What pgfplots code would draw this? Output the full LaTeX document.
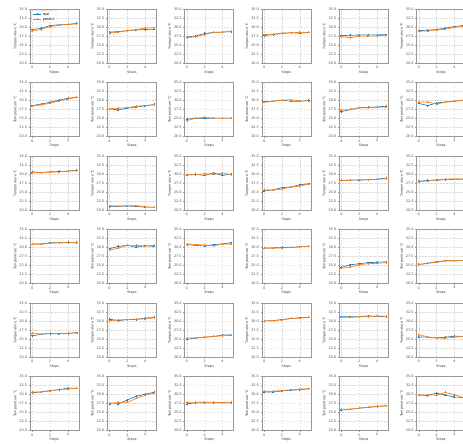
\documentclass[border=0pt]{standalone}
\usepackage{pgfplots}
\pgfplotsset{compat=1.18}
\usepgfplotslibrary{groupplots}
\usetikzlibrary{calc}
\usepackage{fontspec}
\setmainfont{DejaVu Sans}
\definecolor{cReal}{HTML}{1F77B4}
\definecolor{cPred}{HTML}{FF7F0E}
\pgfplotsset{
  realst/.style={cReal, line width=1.3pt, mark=+, mark size=2pt, mark options={solid}},
  predst/.style={cPred, line width=1.3pt, mark=+, mark size=2pt, mark options={solid}},
}
\newcommand{\panel}[2]{\nextgroupplot
  \addplot[realst] coordinates {#1};
  \addplot[predst] coordinates {#2};}
\begin{document}
\begin{tikzpicture}
\begin{groupplot}[
  group style={group name=group, group size=6 by 6, horizontal sep=56.6pt, vertical sep=39pt},
  scale only axis, width=98pt, height=108pt,
  xmin=-0.25, xmax=5.25, ymin=20, ymax=35,
  xtick={0,2,4}, ytick={20,22.5,25,27.5,30,32.5,35},
  yticklabel style={/pgf/number format/.cd, fixed, fixed zerofill, precision=1},
  /pgf/number format/assume math mode=true,
  ticklabel style={font=\fontsize{6.8}{8}\selectfont, color=black!70},
  label style={font=\fontsize{6.8}{8}\selectfont, color=black!75},
  xlabel={Steps}, ylabel={Temperature °C},
  xlabel style={yshift=3pt}, ylabel style={yshift=-2pt},
  axis line style={black!40, line width=0.8pt},
  tick style={black!40, line width=0.6pt},
  tick align=outside, major tick length=2.5pt,
  xtick pos=bottom, ytick pos=left,
  grid=major, major grid style={dashed, black!15, line width=0.5pt},
  legend style={at={(0.03,0.97)}, anchor=north west, font=\fontsize{6.8}{8}\selectfont,
    draw=black!25, rounded corners=2pt, fill=white, fill opacity=0.9, text opacity=1,
    row sep=-1pt, inner sep=2pt},
  legend cell align=left,
]
% row 1
\panel{(0,29.3)(1,29.6)(2,30.4)(3,30.6)(4,30.7)(5,31.0)}{(0,28.9)(1,29.3)(2,30.1)(3,30.5)(4,30.7)(5,30.9)}
\legend{real,predict}
\panel{(0,28.6)(1,28.7)(2,29.0)(3,29.2)(4,29.3)(5,29.4)}{(0,28.3)(1,28.6)(2,29.0)(3,29.3)(4,29.7)(5,29.8)}
\panel{(0,27.2)(1,27.5)(2,28.2)(3,28.5)(4,28.6)(5,28.7)}{(0,27.0)(1,27.3)(2,27.9)(3,28.5)(4,28.6)(5,28.8)}
\panel{(0,27.6)(1,27.9)(2,28.2)(3,28.4)(4,28.3)(5,28.5)}{(0,27.9)(1,28.0)(2,28.3)(3,28.4)(4,28.5)(5,28.5)}
\panel{(0,27.6)(1,27.7)(2,27.8)(3,27.8)(4,27.8)(5,27.9)}{(0,27.3)(1,27.0)(2,27.5)(3,27.5)(4,27.6)(5,27.7)}
\panel{(0,29.0)(1,29.1)(2,29.3)(3,29.7)(4,30.1)(5,30.4)}{(0,28.8)(1,28.9)(2,29.2)(3,29.4)(4,29.9)(5,30.2)}
% row 2
\panel{(0,28.6)(1,29.0)(2,29.5)(3,30.1)(4,30.6)(5,30.9)}{(0,28.4)(1,28.8)(2,29.2)(3,29.9)(4,30.4)(5,30.9)}
\panel{(0,27.7)(1,27.4)(2,27.9)(3,28.2)(4,28.5)(5,28.9)}{(0,27.7)(1,27.9)(2,28.0)(3,28.4)(4,28.6)(5,28.8)}
\panel{(0,24.8)(1,25.1)(2,25.0)(3,25.1)(4,25.1)(5,25.1)}{(0,24.4)(1,25.1)(2,25.3)(3,25.1)(4,25.1)(5,25.1)}
\panel{(0,29.7)(1,29.8)(2,30.1)(3,29.8)(4,29.8)(5,30.0)}{(0,29.5)(1,29.8)(2,30.1)(3,30.2)(4,29.9)(5,29.9)}
\panel{(0,26.9)(1,27.5)(2,28.0)(3,28.1)(4,28.2)(5,28.4)}{(0,27.3)(1,27.5)(2,28.0)(3,28.0)(4,28.1)(5,28.2)}
\panel{(0,29.2)(1,28.6)(2,29.3)(3,29.6)(4,29.8)(5,30.1)}{(0,29.6)(1,29.6)(2,29.0)(3,29.5)(4,29.8)(5,30.1)}
% row 3
\panel{(0,30.6)(1,30.4)(2,30.6)(3,30.7)(4,30.8)(5,31.1)}{(0,30.3)(1,30.4)(2,30.5)(3,30.6)(4,30.8)(5,30.9)}
\panel{(0,20.9)(1,21.0)(2,21.1)(3,21.0)(4,20.8)(5,20.8)}{(0,21.2)(1,21.1)(2,21.2)(3,21.2)(4,20.9)(5,20.7)}
\panel{(0,29.7)(1,29.9)(2,29.6)(3,30.3)(4,29.6)(5,30.0)}{(0,29.8)(1,29.8)(2,30.1)(3,29.9)(4,30.3)(5,29.8)}
\panel{(0,25.3)(1,25.6)(2,26.2)(3,26.4)(4,27.0)(5,27.3)}{(0,25.6)(1,25.5)(2,25.8)(3,26.4)(4,26.6)(5,27.2)}
\panel{(0,28.2)(1,28.3)(2,28.3)(3,28.4)(4,28.6)(5,28.8)}{(0,28.2)(1,28.3)(2,28.4)(3,28.4)(4,28.5)(5,28.7)}
\panel{(0,28.0)(1,28.2)(2,28.3)(3,28.4)(4,28.5)(5,28.6)}{(0,27.8)(1,28.1)(2,28.4)(3,28.6)(4,28.6)(5,28.6)}
% row 4
\panel{(0,31.0)(1,31.0)(2,31.3)(3,31.3)(4,31.4)(5,31.3)}{(0,30.9)(1,30.9)(2,31.2)(3,31.3)(4,31.3)(5,31.4)}
\panel{(0,29.7)(1,30.3)(2,30.6)(3,30.1)(4,30.5)(5,30.3)}{(0,29.3)(1,29.8)(2,30.6)(3,30.6)(4,30.4)(5,30.6)}
\panel{(0,30.8)(1,30.6)(2,30.4)(3,30.8)(4,31.0)(5,31.3)}{(0,31.0)(1,30.8)(2,30.7)(3,30.5)(4,30.9)(5,31.0)}
\panel{(0,29.9)(1,29.9)(2,30.0)(3,30.0)(4,30.2)(5,30.3)}{(0,29.8)(1,29.8)(2,29.9)(3,30.0)(4,30.2)(5,30.3)}
\panel{(0,24.5)(1,25.2)(2,25.5)(3,25.8)(4,25.9)(5,26.0)}{(0,24.2)(1,24.6)(2,25.2)(3,25.5)(4,25.6)(5,25.8)}
\panel{(0,25.3)(1,25.6)(2,26.1)(3,26.3)(4,26.3)(5,26.4)}{(0,25.2)(1,25.6)(2,25.9)(3,26.3)(4,26.3)(5,26.4)}
% row 5
\panel{(0,25.9)(1,26.3)(2,26.5)(3,26.4)(4,26.5)(5,26.8)}{(0,26.6)(1,26.4)(2,26.6)(3,26.5)(4,26.6)(5,26.7)}
\panel{(0,30.5)(1,30.1)(2,30.4)(3,30.4)(4,30.8)(5,31.0)}{(0,30.1)(1,30.3)(2,30.4)(3,30.5)(4,30.6)(5,30.9)}
\panel{(0,24.9)(1,25.3)(2,25.5)(3,25.7)(4,26.1)(5,26.1)}{(0,25.3)(1,25.3)(2,25.5)(3,25.7)(4,25.9)(5,26.0)}
\panel{(0,30.0)(1,30.1)(2,30.4)(3,30.7)(4,30.9)(5,31.0)}{(0,30.0)(1,30.1)(2,30.3)(3,30.7)(4,30.8)(5,31.0)}
\panel{(0,31.2)(1,31.2)(2,31.2)(3,31.4)(4,31.3)(5,31.2)}{(0,31.0)(1,31.0)(2,31.2)(3,31.2)(4,31.4)(5,31.3)}
\panel{(0,25.6)(1,25.5)(2,25.3)(3,25.5)(4,25.8)(5,25.7)}{(0,26.2)(1,25.6)(2,25.3)(3,25.2)(4,25.5)(5,25.7)}
% row 6
\panel{(0,30.5)(1,30.7)(2,31.1)(3,31.3)(4,31.8)(5,31.7)}{(0,30.7)(1,30.7)(2,31.0)(3,31.4)(4,31.5)(5,31.7)}
\panel{(0,27.4)(1,27.4)(2,28.5)(3,29.5)(4,30.1)(5,30.6)}{(0,27.6)(1,27.8)(2,27.8)(3,28.9)(4,29.8)(5,30.4)}
\panel{(0,27.4)(1,27.7)(2,27.7)(3,27.7)(4,27.7)(5,27.7)}{(0,27.8)(1,27.8)(2,27.9)(3,27.8)(4,27.7)(5,27.8)}
\panel{(0,30.7)(1,30.7)(2,31.0)(3,31.2)(4,31.3)(5,31.6)}{(0,30.9)(1,30.9)(2,31.1)(3,31.3)(4,31.5)(5,31.6)}
\panel{(0,25.7)(1,25.9)(2,26.2)(3,26.4)(4,26.7)(5,26.9)}{(0,25.9)(1,25.9)(2,26.2)(3,26.5)(4,26.6)(5,26.9)}
\panel{(0,29.9)(1,29.7)(2,30.4)(3,29.8)(4,29.3)(5,29.2)}{(0,29.8)(1,29.9)(2,29.8)(3,30.6)(4,29.9)(5,29.2)}
\end{groupplot}
\pgfresetboundingbox
\path[use as bounding box] ($(group c1r1.north west)+(-60pt,18pt)$) rectangle ++(926pt,-886pt);
\end{tikzpicture}
\end{document}
